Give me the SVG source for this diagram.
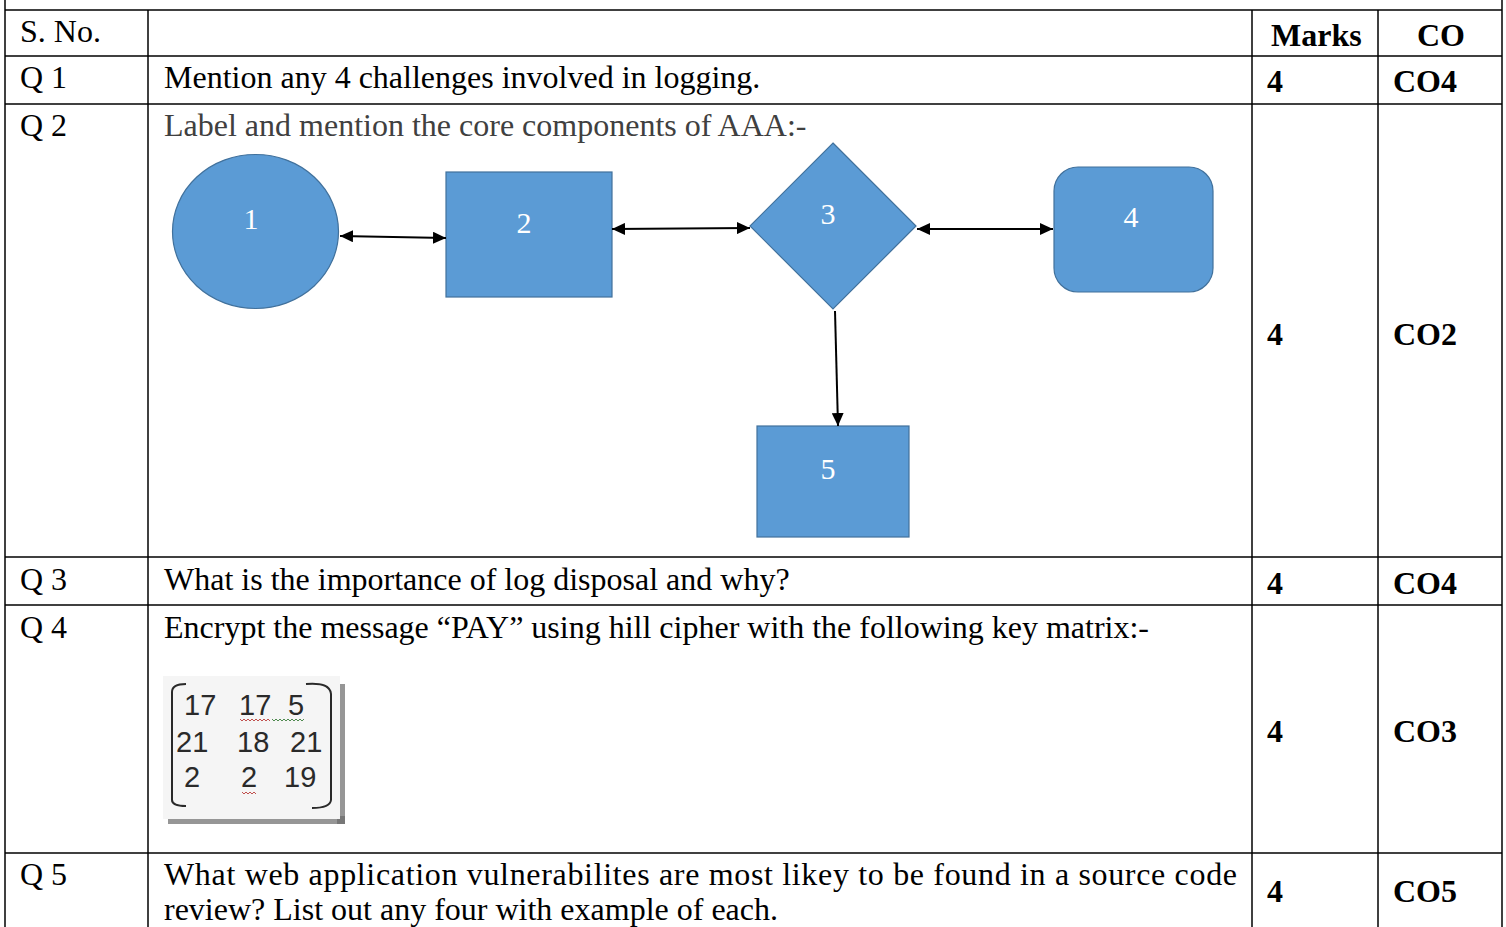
<svg xmlns="http://www.w3.org/2000/svg" width="1506" height="927" viewBox="0 0 1506 927">
<defs>
<style>
.grid{stroke:#000;stroke-width:1.5;fill:none}
.t{font-family:'Liberation Serif',serif;font-size:32px;fill:#000}
.b{font-family:'Liberation Serif',serif;font-size:32px;font-weight:bold;fill:#000}
.g{fill:#404040}
.shape{fill:#5B9BD5;stroke:#41719C;stroke-width:1.2}
.lbl{font-family:'Liberation Serif',serif;font-size:30px;fill:#fff;text-anchor:middle}
.conn{stroke:#000;stroke-width:2;fill:none}
.num{font-family:'Liberation Sans',sans-serif;font-size:29px;fill:#2a2a2a}
</style>
<marker id="ah" markerUnits="userSpaceOnUse" markerWidth="14" markerHeight="12" refX="13" refY="6" orient="auto-start-reverse">
<path d="M0,0 L13,6 L0,12 z" fill="#000"/>
</marker>
</defs>
<rect width="1506" height="927" fill="#fff"/>

<g id="table">
<line class="grid" x1="5" y1="0" x2="5" y2="927"/>
<line class="grid" x1="1502" y1="0" x2="1502" y2="927"/>
<line class="grid" x1="148" y1="10" x2="148" y2="927"/>
<line class="grid" x1="1252" y1="10" x2="1252" y2="927"/>
<line class="grid" x1="1378" y1="10" x2="1378" y2="927"/>
<line class="grid" x1="5" y1="10" x2="1502" y2="10"/>
<line class="grid" x1="5" y1="56" x2="1502" y2="56"/>
<line class="grid" x1="5" y1="104" x2="1502" y2="104"/>
<line class="grid" x1="5" y1="557" x2="1502" y2="557"/>
<line class="grid" x1="5" y1="605" x2="1502" y2="605"/>
<line class="grid" x1="5" y1="853" x2="1502" y2="853" stroke="#555" stroke-width="2"/>
</g>

<g id="header" font-family="Liberation Serif, serif">
<text class="t" x="20" y="42">S. No.</text>
<text class="b" x="1271" y="46">Marks</text>
<text class="b" x="1417" y="46">CO</text>
</g>

<g id="q1">
<text class="t" x="20" y="88">Q 1</text>
<text class="t" x="164" y="88">Mention any 4 challenges involved in logging.</text>
<text class="b" x="1267" y="92">4</text>
<text class="b" x="1393" y="92">CO4</text>
</g>

<g id="q2">
<text class="t" x="20" y="136">Q 2</text>
<text class="t g" x="164" y="136">Label and mention the core components of AAA:-</text>
<text class="b" x="1267" y="345">4</text>
<text class="b" x="1393" y="345">CO2</text>
</g>

<g id="node1">
<ellipse class="shape" cx="255.5" cy="231.5" rx="83" ry="77"/>
<text class="lbl" x="251" y="229">1</text>
</g>
<g id="node2">
<rect class="shape" x="446" y="172" width="166" height="125"/>
<text class="lbl" x="524" y="233">2</text>
</g>
<g id="node3">
<polygon class="shape" points="833,143 916,226 833,309 750,226"/>
<text class="lbl" x="828" y="224">3</text>
</g>
<g id="node4">
<rect class="shape" x="1054" y="167" width="159" height="125" rx="24" ry="24"/>
<text class="lbl" x="1131" y="227">4</text>
</g>
<g id="node5">
<rect class="shape" x="757" y="426" width="152" height="111"/>
<text class="lbl" x="828" y="479">5</text>
</g>

<g id="connectors">
<line class="conn" x1="340" y1="236" x2="446" y2="238" marker-start="url(#ah)" marker-end="url(#ah)"/>
<line class="conn" x1="612" y1="229" x2="750" y2="228" marker-start="url(#ah)" marker-end="url(#ah)"/>
<line class="conn" x1="917" y1="229" x2="1053" y2="229" marker-start="url(#ah)" marker-end="url(#ah)"/>
<line class="conn" x1="835" y1="311" x2="838" y2="426" marker-end="url(#ah)"/>
</g>

<g id="q3">
<text class="t" x="20" y="590">Q 3</text>
<text class="t" x="164" y="590">What is the importance of log disposal and why?</text>
<text class="b" x="1267" y="594">4</text>
<text class="b" x="1393" y="594">CO4</text>
</g>

<g id="q4">
<text class="t" x="20" y="638">Q 4</text>
<text class="t" x="164" y="638">Encrypt the message “PAY” using hill cipher with the following key matrix:-</text>
<text class="b" x="1267" y="742">4</text>
<text class="b" x="1393" y="742">CO3</text>
</g>

<g id="matrix">
<rect x="337" y="684" width="8" height="140" fill="#6a6a6a" opacity="0.7"/>
<rect x="168" y="816" width="177" height="8" fill="#6a6a6a" opacity="0.7"/>
<rect x="163" y="676" width="177" height="143" fill="#f5f5f5"/>
<path d="M186,684 Q172,684 172,692 L172,800 Q172,806 186,806" fill="none" stroke="#2a2a2a" stroke-width="2"/>
<path d="M306,684 Q330,682 331,694 L331,800 Q330,808 312,808" fill="none" stroke="#2a2a2a" stroke-width="2"/>
<text class="num" x="184" y="715">17</text>
<text class="num" x="239" y="715">17</text>
<text class="num" x="288" y="715">5</text>
<text class="num" x="176" y="752">21</text>
<text class="num" x="237" y="752">18</text>
<text class="num" x="290" y="752">21</text>
<text class="num" x="184" y="787">2</text>
<text class="num" x="241" y="787">2</text>
<text class="num" x="284" y="787">19</text>
<path d="M240,719 l2,2 l2,-2 l2,2 l2,-2 l2,2 l2,-2 l2,2 l2,-2 l2,2 l2,-2 l2,2 l2,-2 l2,2 l2,-2 l2,2" fill="none" stroke="#c0504d" stroke-width="1"/>
<path d="M272,719 l2,2 l2,-2 l2,2 l2,-2 l2,2 l2,-2 l2,2 l2,-2 l2,2 l2,-2 l2,2 l2,-2 l2,2 l2,-2 l2,2 l2,-2" fill="none" stroke="#4f8a4f" stroke-width="1"/>
<path d="M242,792 l2,2 l2,-2 l2,2 l2,-2 l2,2 l2,-2 l2,2" fill="none" stroke="#c0504d" stroke-width="1"/>
</g>

<g id="q5">
<text class="t" x="20" y="885">Q 5</text>
<text class="t" x="164" y="885" textLength="1073" lengthAdjust="spacing">What web application vulnerabilites are most likey to be found in a source code</text>
<text class="t" x="164" y="920">review? List out any four with example of each.</text>
<text class="b" x="1267" y="902">4</text>
<text class="b" x="1393" y="902">CO5</text>
</g>
</svg>
